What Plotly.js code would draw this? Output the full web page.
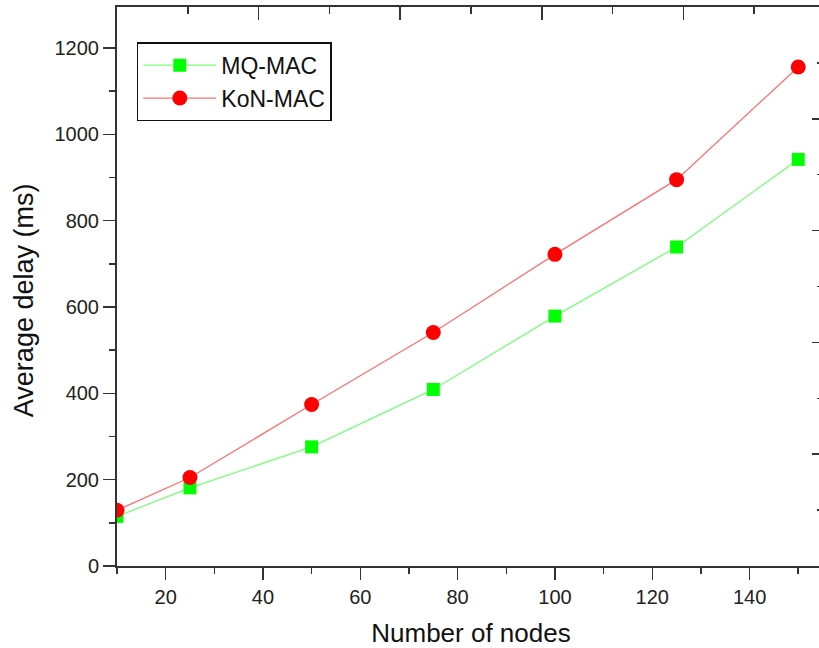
<!DOCTYPE html>
<html>
<head>
<meta charset="utf-8">
<script src="https://cdn.plot.ly/plotly-3.0.1.min.js"></script>
<style>
  html, body { margin: 0; padding: 0; overflow: hidden; background: #fff; }
  #chart { width: 830px; height: 648px; }
</style>
</head>
<body>
<div id="chart"></div>
<script>
const nodes = [10, 25, 50, 75, 100, 125, 150];
const mqMac = [115, 181, 276, 409, 579, 739, 942];
const konMac = [129, 205, 374, 541, 722, 895, 1156];
const seriesNames = ["MQ-MAC", "KoN-MAC"];
const xTitle = "Number of nodes";
const yTitle = "Average delay (ms)";

const FONT = "Liberation Sans, Arial, sans-serif";
const AX = "#333333";

const traces = [
  {
    x: nodes, y: mqMac, name: seriesNames[0], type: "scatter", mode: "lines+markers",
    line: { color: "#78ff78", width: 1.3 },
    marker: { symbol: "square", size: 13, color: "#00ff00" },
    cliponaxis: true, xaxis: "x", yaxis: "y"
  },
  {
    x: nodes, y: konMac, name: seriesNames[1], type: "scatter", mode: "lines+markers",
    line: { color: "#ff7070", width: 1.3 },
    marker: { symbol: "circle", size: 15, color: "#ff0000" },
    cliponaxis: true, xaxis: "x", yaxis: "y"
  },
  {
    x: [0], y: [0], type: "scatter", mode: "markers", showlegend: false,
    hoverinfo: "skip", marker: { opacity: 0 }, xaxis: "x2", yaxis: "y2"
  }
];

const layout = {
  width: 830, height: 648,
  margin: { l: 117, r: 5, t: 7, b: 82 },
  paper_bgcolor: "#fff", plot_bgcolor: "#fff",
  font: { family: FONT, color: "#222", size: 20 },
  showlegend: true,
  legend: {
    x: 0.028, y: 0.937, xanchor: "left", yanchor: "top",
    bgcolor: "#fff", bordercolor: "#111", borderwidth: 1.5,
    font: { family: FONT, size: 23, color: "#111" },
    tracegroupgap: 0, itemwidth: 73
  },
  annotations: [
    {
      text: yTitle, xref: "paper", yref: "paper",
      x: -0.131, y: 0.476, xanchor: "center", yanchor: "middle",
      textangle: -90, showarrow: false,
      font: { family: FONT, size: 27, color: "#111" }
    }
  ],
  xaxis: {
    range: [10, 155.5], tick0: 0, dtick: 20,
    ticks: "outside", ticklen: 12, tickwidth: 1.5, tickcolor: AX,
    minor: { dtick: 10, tick0: 0, ticks: "outside", ticklen: 6, tickwidth: 1.5, tickcolor: AX },
    showline: true, linecolor: AX, linewidth: 2,
    showgrid: false, zeroline: false,
    tickfont: { family: FONT, size: 20, color: "#222" },
    title: { text: xTitle, font: { family: FONT, size: 26, color: "#111" }, standoff: 18 }
  },
  yaxis: {
    range: [0, 1295], tick0: 0, dtick: 200,
    ticks: "outside", ticklen: 12, tickwidth: 1.5, tickcolor: AX,
    minor: { dtick: 100, tick0: 0, ticks: "outside", ticklen: 6, tickwidth: 1.5, tickcolor: AX },
    showline: true, linecolor: AX, linewidth: 2,
    showgrid: false, zeroline: false,
    tickfont: { family: FONT, size: 20, color: "#222" }
  },
  xaxis2: {
    overlaying: "x", side: "top", anchor: "y", range: [0, 5], dtick: 1,
    ticks: "inside", ticklen: 13, tickwidth: 1.5, tickcolor: AX,
    minor: { dtick: 0.5, ticks: "inside", ticklen: 7, tickwidth: 1.5, tickcolor: AX },
    showticklabels: false, showline: true, linecolor: AX, linewidth: 2,
    showgrid: false, zeroline: false
  },
  yaxis2: {
    overlaying: "y", side: "right", anchor: "x", range: [0, 5], dtick: 1,
    ticks: "inside", ticklen: 13, tickwidth: 1.5, tickcolor: AX,
    minor: { dtick: 0.5, ticks: "inside", ticklen: 8, tickwidth: 1.5, tickcolor: AX },
    showticklabels: false, showline: true, linecolor: AX, linewidth: 2,
    showgrid: false, zeroline: false
  }
};

Plotly.newPlot("chart", traces, layout, { staticPlot: true, displayModeBar: false });
</script>
</body>
</html>
